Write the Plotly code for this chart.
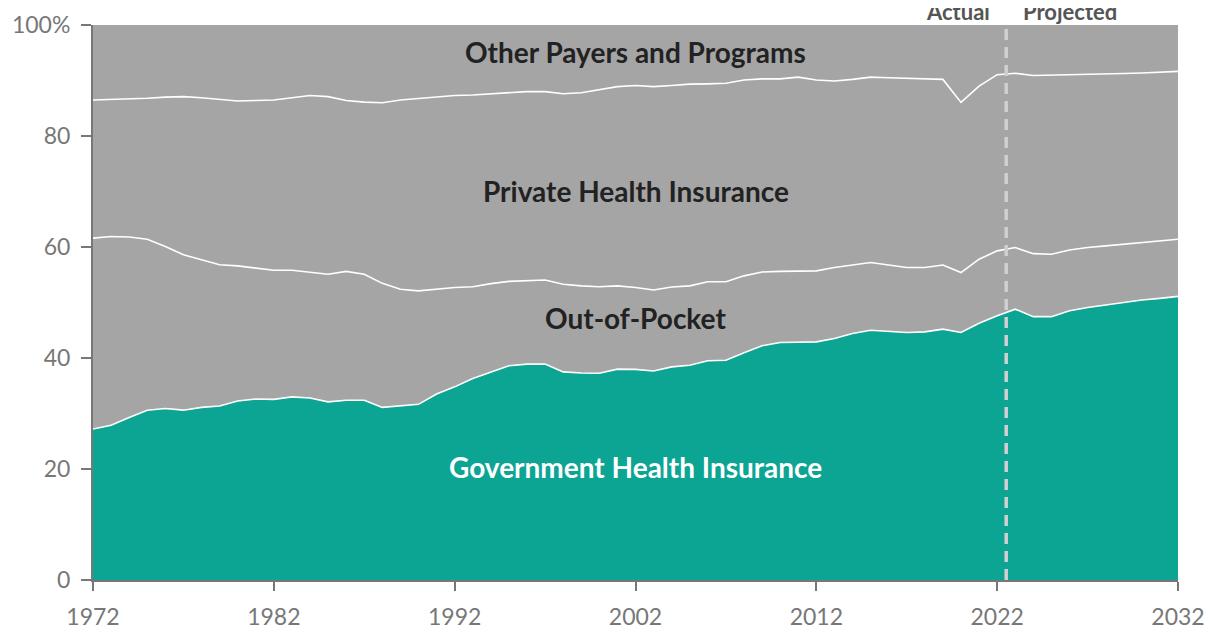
import plotly.graph_objects as go

years = list(range(1972, 2033))

government = [27.2, 27.9, 29.3, 30.6, 30.9, 30.6, 31.1, 31.35, 32.25, 32.6,
              32.55, 33.0, 32.8, 32.1, 32.4, 32.4, 31.1, 31.4, 31.65, 33.5,
              34.8, 36.3, 37.5, 38.6, 38.9, 38.9, 37.5, 37.3, 37.25, 38.0,
              37.95, 37.65, 38.4, 38.7, 39.5, 39.6, 40.95, 42.2, 42.8, 42.9,
              42.9, 43.5, 44.4, 45.0, 44.75, 44.6, 44.7, 45.2, 44.6, 46.25,
              47.6, 48.8, 47.45, 47.45, 48.5, 49.1, 49.55, 50.0, 50.45, 50.75,
              51.1]

out_of_pocket = [34.4, 34.0, 32.5, 30.8, 29.2, 28.0, 26.6, 25.45, 24.35, 23.6,
                 23.25, 22.8, 22.7, 23.0, 23.2, 22.7, 22.35, 21.0, 20.45, 18.9,
                 17.9, 16.55, 15.9, 15.2, 15.0, 15.15, 15.8, 15.7, 15.6, 15.0,
                 14.75, 14.6, 14.4, 14.3, 14.25, 14.15, 13.85, 13.3, 12.8, 12.8,
                 12.8, 12.8, 12.4, 12.2, 12.0, 11.7, 11.6, 11.55, 10.8, 11.55,
                 11.7, 11.1, 11.35, 11.25, 10.95, 10.8, 10.65, 10.5, 10.35, 10.35,
                 10.3]

private = [24.9, 24.7, 24.8, 25.4, 26.9, 28.5, 29.2, 29.8, 29.7, 30.2,
           30.7, 31.1, 31.8, 32.0, 30.8, 31.0, 32.55, 34.1, 34.7, 34.7,
           34.6, 34.55, 34.2, 34.1, 34.1, 33.95, 34.3, 34.8, 35.55, 35.9,
           36.4, 36.65, 36.3, 36.35, 35.65, 35.75, 35.3, 34.8, 34.7, 34.9,
           34.4, 33.6, 33.4, 33.4, 33.75, 34.1, 34.1, 33.45, 30.65, 31.2,
           31.75, 31.4, 32.1, 32.25, 31.55, 31.15, 30.9, 30.75, 30.55, 30.4,
           30.25]

other = [13.5, 13.4, 13.4, 13.2, 13.0, 12.9, 13.1, 13.4, 13.7, 13.6,
         13.5, 13.1, 12.7, 12.9, 13.6, 13.9, 14.0, 13.5, 13.2, 12.9,
         12.7, 12.6, 12.4, 12.1, 12.0, 12.0, 12.4, 12.2, 11.6, 11.1,
         10.9, 11.1, 10.9, 10.65, 10.6, 10.5, 9.9, 9.7, 9.7, 9.4,
         9.9, 10.1, 9.8, 9.4, 9.5, 9.6, 9.6, 9.8, 13.95, 11.0,
         8.95, 8.7, 9.1, 9.05, 9.0, 8.95, 8.9, 8.75, 8.65, 8.5,
         8.35]

x_ticks = [1972, 1982, 1992, 2002, 2012, 2022, 2032]
y_ticks = [0, 20, 40, 60, 80, 100]
y_tick_labels = ["0", "20", "40", "60", "80", "100%"]

TEAL = "#0ca593"
GRAY = "#a5a5a5"
FONT = "Lato"
AXIS = "#777777"

fig = go.Figure()
series = [
    ("Government Health Insurance", government, TEAL, 1.6),
    ("Out-of-Pocket", out_of_pocket, GRAY, 1.6),
    ("Private Health Insurance", private, GRAY, 1.6),
    ("Other Payers and Programs", other, GRAY, 0),
]
for name, vals, col, lw in series:
    fig.add_trace(go.Scatter(
        x=years, y=vals, name=name, stackgroup="one", mode="lines",
        fillcolor=col,
        line=dict(color="white" if lw else col, width=lw if lw else 0.01),
        hoverinfo="skip", showlegend=False,
    ))

# dashed projection divider
fig.add_shape(type="line", x0=2022.5, x1=2022.5, y0=0, y1=100,
              xref="x", yref="y", layer="above",
              line=dict(color="#d0d0d0", width=3.5, dash="11px,7px"))

labels = [
    ("Other Payers and Programs", 2002, 95.1, "#222222"),
    ("Private Health Insurance", 2002, 70.1, "#222222"),
    ("Out-of-Pocket", 2002, 47.2, "#222222"),
    ("Government Health Insurance", 2002, 20.4, "#ffffff"),
]
for text, xv, yv, col in labels:
    fig.add_annotation(x=xv, y=yv, xref="x", yref="y", text="<b>%s</b>" % text,
                       showarrow=False, font=dict(family=FONT, size=28, color=col))

fig.add_annotation(x=2019.85, y=1.0, xref="x", yref="paper", yanchor="bottom",
                   yshift=-2, text="<b>Actual</b>", showarrow=False,
                   font=dict(family=FONT, size=22, color="#555555"))
fig.add_annotation(x=2026.05, y=1.0, xref="x", yref="paper", yanchor="bottom",
                   yshift=-2, text="<b>Projected</b>", showarrow=False,
                   font=dict(family=FONT, size=22, color="#555555"))

fig.update_layout(
    width=1220, height=642,
    margin=dict(l=85, r=50, t=17, b=70),
    paper_bgcolor="white", plot_bgcolor="white",
    font=dict(family=FONT, color=AXIS, size=23),
    xaxis=dict(range=[1972, 2032], tickvals=x_ticks, ticks="outside", ticklen=9,
               tickwidth=2, tickcolor=AXIS, showline=True, linecolor=AXIS,
               linewidth=2, showgrid=False, zeroline=False, ticklabelstandoff=6,
               automargin=False,
               tickfont=dict(family=FONT, size=23, color=AXIS)),
    yaxis=dict(range=[0, 100], tickvals=y_ticks, ticktext=y_tick_labels,
               ticks="outside", ticklen=10, tickwidth=2, tickcolor=AXIS,
               showline=True, linecolor=AXIS, linewidth=2, showgrid=False,
               zeroline=False, ticklabelstandoff=6, automargin=False,
               tickfont=dict(family=FONT, size=23, color=AXIS)),
)

fig.write_html("out.html")
